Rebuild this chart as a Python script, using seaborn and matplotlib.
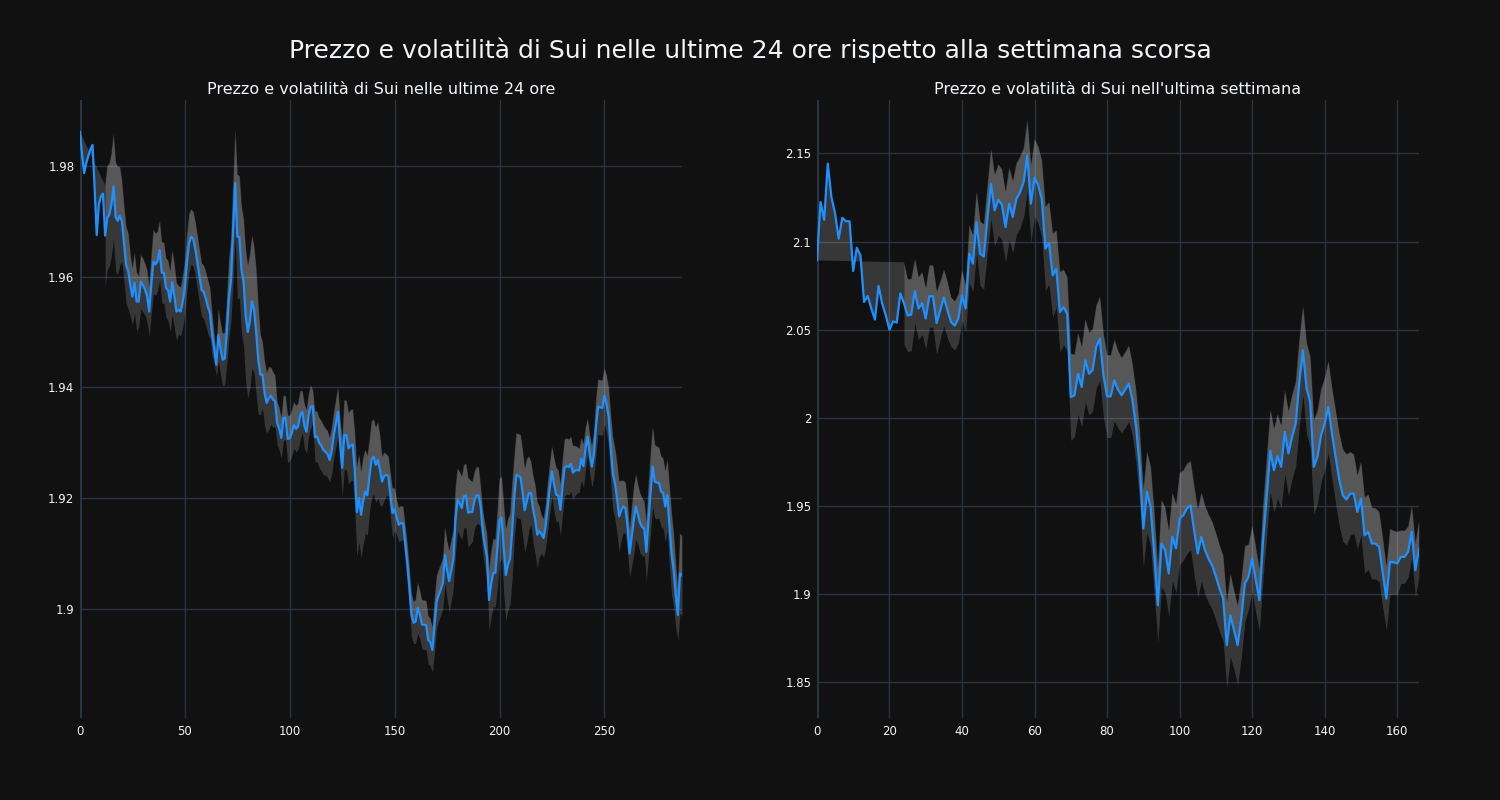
import numpy as np
import pandas as pd
import matplotlib
matplotlib.use("Agg")
import matplotlib.pyplot as plt
from matplotlib.ticker import FuncFormatter, FixedLocator
import seaborn as sns

# ---------------- data ----------------
price_24h = [
    1.9862, 1.9820, 1.9787, 1.9805, 1.9818, 1.9830, 1.9838, 1.9760, 1.9675, 1.9730,
    1.9745, 1.9750, 1.9674, 1.9706, 1.9712, 1.9730, 1.9763, 1.9708, 1.9701, 1.9710,
    1.9700, 1.9660, 1.9621, 1.9610, 1.9585, 1.9564, 1.9589, 1.9555, 1.9555, 1.9591,
    1.9585, 1.9577, 1.9565, 1.9537, 1.9585, 1.9627, 1.9622, 1.9628, 1.9648, 1.9607,
    1.9607, 1.9580, 1.9575, 1.9555, 1.9590, 1.9565, 1.9537, 1.9540, 1.9537, 1.9555,
    1.9580, 1.9625, 1.9660, 1.9672, 1.9668, 1.9650, 1.9625, 1.9600, 1.9576, 1.9572,
    1.9560, 1.9545, 1.9534, 1.9495, 1.9470, 1.9441, 1.9495, 1.9470, 1.9450, 1.9452,
    1.9500, 1.9560, 1.9594, 1.9680, 1.9769, 1.9672, 1.9672, 1.9612, 1.9590, 1.9530,
    1.9500, 1.9520, 1.9555, 1.9540, 1.9500, 1.9450, 1.9423, 1.9423, 1.9390, 1.9372,
    1.9380, 1.9385, 1.9378, 1.9375, 1.9336, 1.9325, 1.9309, 1.9345, 1.9345, 1.9307,
    1.9308, 1.9318, 1.9332, 1.9325, 1.9330, 1.9350, 1.9356, 1.9330, 1.9320, 1.9350,
    1.9365, 1.9366, 1.9310, 1.9312, 1.9300, 1.9295, 1.9287, 1.9284, 1.9280, 1.9269,
    1.9285, 1.9314, 1.9335, 1.9356, 1.9300, 1.9255, 1.9314, 1.9314, 1.9290, 1.9295,
    1.9297, 1.9250, 1.9175, 1.9200, 1.9170, 1.9195, 1.9212, 1.9205, 1.9240, 1.9270,
    1.9275, 1.9260, 1.9269, 1.9251, 1.9230, 1.9240, 1.9242, 1.9240, 1.9205, 1.9173,
    1.9180, 1.9165, 1.9152, 1.9155, 1.9155, 1.9120, 1.9083, 1.9040, 1.8990, 1.8975,
    1.8977, 1.9002, 1.8990, 1.8972, 1.8971, 1.8971, 1.8944, 1.8940, 1.8926, 1.8970,
    1.9013, 1.9025, 1.9035, 1.9047, 1.9097, 1.9070, 1.9050, 1.9070, 1.9090, 1.9160,
    1.9197, 1.9190, 1.9182, 1.9203, 1.9205, 1.9174, 1.9175, 1.9175, 1.9195, 1.9205,
    1.9205, 1.9185, 1.9140, 1.9115, 1.9094, 1.9016, 1.9045, 1.9065, 1.9065, 1.9110,
    1.9160, 1.9165, 1.9110, 1.9061, 1.9080, 1.9090, 1.9140, 1.9200, 1.9242, 1.9240,
    1.9238, 1.9210, 1.9178, 1.9195, 1.9209, 1.9209, 1.9180, 1.9161, 1.9134, 1.9140,
    1.9135, 1.9128, 1.9150, 1.9185, 1.9220, 1.9248, 1.9225, 1.9206, 1.9205, 1.9179,
    1.9220, 1.9255, 1.9258, 1.9256, 1.9262, 1.9246, 1.9250, 1.9251, 1.9250, 1.9271,
    1.9258, 1.9290, 1.9311, 1.9280, 1.9257, 1.9280, 1.9330, 1.9365, 1.9364, 1.9363,
    1.9385, 1.9370, 1.9347, 1.9290, 1.9245, 1.9227, 1.9200, 1.9167, 1.9178, 1.9185,
    1.9182, 1.9150, 1.9100, 1.9130, 1.9160, 1.9185, 1.9170, 1.9155, 1.9148, 1.9145,
    1.9103, 1.9160, 1.9210, 1.9257, 1.9230, 1.9228, 1.9228, 1.9212, 1.9209, 1.9185,
    1.9205, 1.9150, 1.9100, 1.9070, 1.9025, 1.8989, 1.9064, 1.9060,
]

price_week = [
    2.0893, 2.1224, 2.1124, 2.1442, 2.1252, 2.1160, 2.1016, 2.1135, 2.1115, 2.1115,
    2.0833, 2.0965, 2.0922, 2.0657, 2.0691, 2.0620, 2.0557, 2.0748, 2.0648, 2.0580,
    2.0500, 2.0547, 2.0540, 2.0705, 2.0650, 2.0581, 2.0585, 2.0719, 2.0620, 2.0650,
    2.0563, 2.0690, 2.0690, 2.0538, 2.0610, 2.0682, 2.0610, 2.0543, 2.0523, 2.0563,
    2.0695, 2.0620, 2.0931, 2.0875, 2.1110, 2.0931, 2.0915, 2.1130, 2.1328, 2.1177,
    2.1237, 2.1210, 2.1082, 2.1215, 2.1139, 2.1243, 2.1280, 2.1337, 2.1489, 2.1215,
    2.1362, 2.1320, 2.1240, 2.0960, 2.0991, 2.0808, 2.0846, 2.0600, 2.0628, 2.0590,
    2.0118, 2.0127, 2.0250, 2.0175, 2.0326, 2.0250, 2.0270, 2.0402, 2.0450, 2.0241,
    2.0122, 2.0122, 2.0213, 2.0160, 2.0128, 2.0160, 2.0194, 2.0100, 1.9948, 1.9721,
    1.9372, 1.9580, 1.9495, 1.9230, 1.8937, 1.9287, 1.9249, 1.9117, 1.9325, 1.9259,
    1.9429, 1.9447, 1.9485, 1.9504, 1.9362, 1.9230, 1.9325, 1.9249, 1.9200, 1.9160,
    1.9100, 1.9032, 1.8975, 1.8710, 1.8880, 1.8795, 1.8710, 1.8862, 1.9060, 1.9098,
    1.9202, 1.9080, 1.8966, 1.9300, 1.9550, 1.9812, 1.9703, 1.9782, 1.9722, 1.9920,
    1.9798, 1.9891, 1.9967, 2.0200, 2.0383, 2.0166, 2.0090, 1.9722, 1.9778, 1.9901,
    1.9967, 2.0062, 1.9911, 1.9780, 1.9650, 1.9560, 1.9536, 1.9570, 1.9570, 1.9466,
    1.9542, 1.9334, 1.9353, 1.9287, 1.9287, 1.9268, 1.9120, 1.8975, 1.9183, 1.9180,
    1.9174, 1.9211, 1.9211, 1.9240, 1.9353, 1.9136, 1.9260,
]

main_title = "Prezzo e volatilità di Sui nelle ultime 24 ore rispetto alla settimana scorsa"
title_24h = "Prezzo e volatilità di Sui nelle ultime 24 ore"
title_week = "Prezzo e volatilità di Sui nell'ultima settimana"

xticks_24h = [0, 50, 100, 150, 200, 250]
yticks_24h = [1.9, 1.92, 1.94, 1.96, 1.98]
xticks_week = [0, 20, 40, 60, 80, 100, 120, 140, 160]
yticks_week = [1.85, 1.9, 1.95, 2.0, 2.05, 2.1, 2.15]

# ---------------- style ----------------
BG = "#111111"
GRID = "#283442"
TXT = "#f2f5fa"
LINE = "#1e90ff"

sns.set_theme(style="dark")
plt.rcParams.update({
    "figure.facecolor": BG,
    "axes.facecolor": BG,
    "savefig.facecolor": BG,
    "text.color": TXT,
    "axes.labelcolor": TXT,
    "xtick.color": TXT,
    "ytick.color": TXT,
})
plt.rcParams["font.family"] = ["DejaVu Sans"]

fig = plt.figure(figsize=(15, 8), dpi=100)
fig.subplots_adjust(left=0.0533, right=0.946, top=0.875, bottom=0.1025, wspace=0.224)
axes = fig.subplots(1, 2)


def draw(ax, prices, window, k, xticks, yticks, xlim, ylim, title):
    s = pd.Series(prices, dtype=float)
    x = np.arange(len(s))
    vol = s.pct_change().rolling(window).std()
    up = s * (1 + k * vol)
    lo = s * (1 - k * vol)
    valid = ~vol.isna().values

    # upper fill (upper trace against price trace, plotly "tonexty" style)
    xs = np.concatenate([x[valid], x[::-1]])
    ys = np.concatenate([up.values[valid], s.values[::-1]])
    ax.fill(xs, ys, color="white", alpha=0.16, lw=0, zorder=2)
    # lower fill (lower trace against upper trace)
    ax.fill_between(x[valid], lo.values[valid], up.values[valid],
                    color="white", alpha=0.16, lw=0, zorder=2)

    df = pd.DataFrame({"x": x, "price": s.values})
    sns.lineplot(data=df, x="x", y="price", ax=ax, color=LINE, linewidth=1.6, zorder=3)

    ax.set_xlim(*xlim)
    ax.set_ylim(*ylim)
    ax.xaxis.set_major_locator(FixedLocator(xticks))
    ax.yaxis.set_major_locator(FixedLocator(yticks))
    ax.yaxis.set_major_formatter(FuncFormatter(lambda v, p: f"{v:g}"))
    ax.grid(True, color=GRID, linewidth=1.0, zorder=0)
    ax.set_axisbelow(True)
    ax.axvline(0, color=GRID, linewidth=2.2, zorder=1)
    for sp in ax.spines.values():
        sp.set_visible(False)
    ax.tick_params(axis="both", length=0, labelsize=8.5, colors=TXT)
    ax.tick_params(axis="y", pad=4)
    ax.tick_params(axis="x", pad=5)
    ax.set_xlabel("")
    ax.set_ylabel("")
    ax.set_title(title, color=TXT, fontsize=11.5, pad=4)


draw(axes[0], price_24h, 12, 2.0, xticks_24h, yticks_24h, (0, 287), (1.8803, 1.9919), title_24h)
draw(axes[1], price_week, 24, 1.5, xticks_week, yticks_week, (0, 166), (1.8297, 2.1803), title_week)

fig.suptitle(main_title, color=TXT, fontsize=18, y=0.9375, va="center")

fig.savefig("out.png", dpi=100)
